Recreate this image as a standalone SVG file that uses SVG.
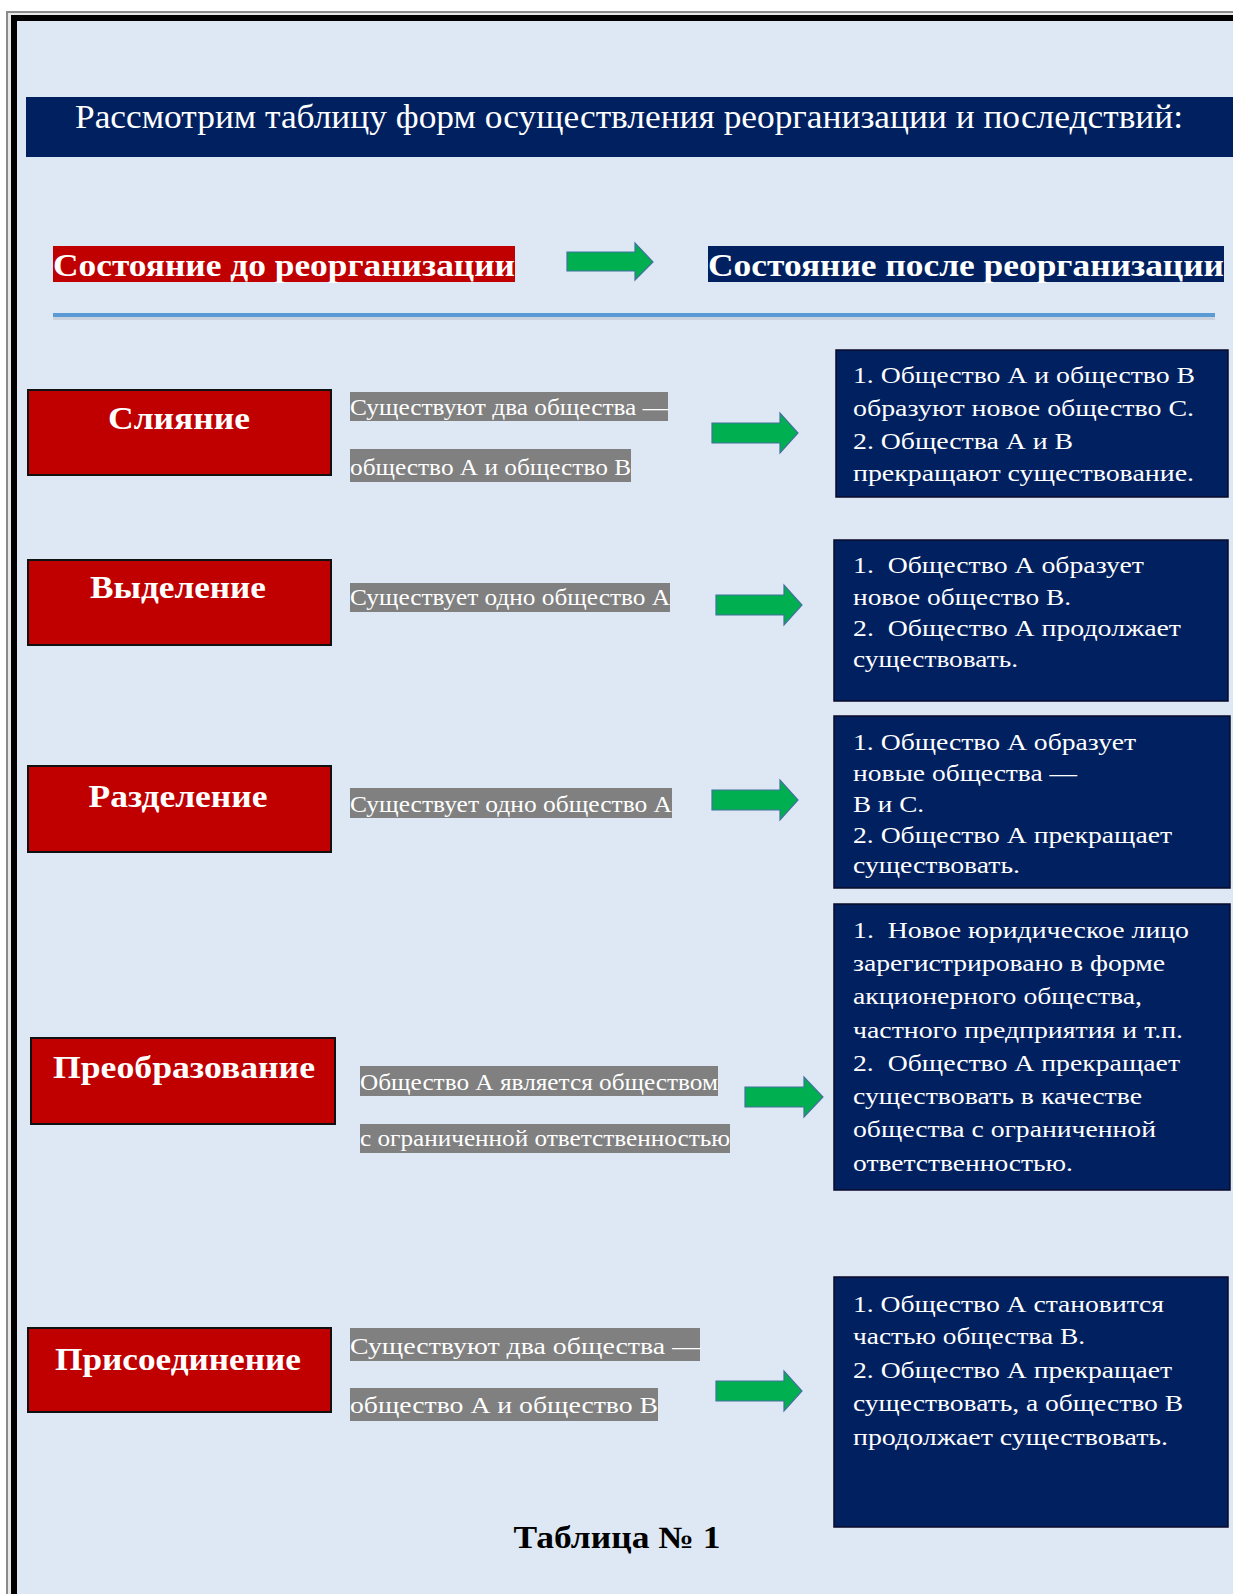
<svg xmlns="http://www.w3.org/2000/svg" width="1233" height="1594" viewBox="0 0 1233 1594">
<style>
text{font-family:"Liberation Serif","Times New Roman",serif;}
.title{fill:#fff;font-size:33px;}
.hdr{fill:#fff;font-size:32px;font-weight:bold;}
.red{fill:#c00000;stroke:#111;stroke-width:2;}
.redt{fill:#fff;font-size:31px;font-weight:bold;text-anchor:middle;}
.gray{fill:#808080;}
.grayt{fill:#fff;font-size:24px;}
.navy{fill:#002060;stroke:#0a0a2a;stroke-width:1.5;}
.navyt{fill:#fff;font-size:24px;}
.arrow{fill:#00b050;stroke:#41719c;stroke-width:1.2;}
</style>
<defs>
<path id="arr" d="M0,-10 H68 V-20 L86,0 L68,20 V10 H0 Z"/>
</defs>
<rect x="0" y="0" width="1233" height="1594" fill="#ffffff"/>
<rect x="6" y="11" width="1227" height="1583" fill="#8a8a8a"/>
<rect x="8" y="13" width="1225" height="1581" fill="#e8e8e8"/>
<rect x="11" y="15" width="1222" height="1579" fill="#000"/>
<rect x="17" y="21" width="1216" height="1573" fill="#dde8f4"/>

<g id="title">
<rect x="26" y="97" width="1207" height="60" fill="#002060"/>
<text class="title" x="75" y="128" textLength="1108" lengthAdjust="spacingAndGlyphs">Рассмотрим таблицу форм осуществления реорганизации и последствий:</text>
</g>

<g id="header-before">
<rect x="53" y="246" width="462" height="36" fill="#c00000"/>
<text class="hdr" x="53" y="276" textLength="462" lengthAdjust="spacingAndGlyphs">Состояние до реорганизации</text>
</g>
<g id="header-after">
<rect x="708" y="246" width="516" height="36" fill="#002060"/>
<text class="hdr" x="708" y="276" textLength="516" lengthAdjust="spacingAndGlyphs">Состояние после реорганизации</text>
</g>
<g id="divider">
<rect x="53" y="316" width="1162" height="4" fill="#c9d2dd"/>
<rect x="53" y="313" width="1162" height="4" fill="#5b9bd5"/>
</g>

<g id="row1-name">
<rect class="red" x="28" y="390" width="303" height="85"/>
<text class="redt" x="179" y="429" textLength="142" lengthAdjust="spacingAndGlyphs">Слияние</text>
</g>
<g id="row1-before">
<rect class="gray" x="350" y="392" width="318" height="29"/>
<text class="grayt" x="350" y="415" textLength="318" lengthAdjust="spacingAndGlyphs">Существуют два общества —</text>
<rect class="gray" x="350" y="449" width="281" height="33"/>
<text class="grayt" x="350" y="475" textLength="281" lengthAdjust="spacingAndGlyphs">общество А и общество В</text>
</g>
<g id="row1-after">
<rect class="navy" x="836" y="350" width="392" height="147"/>
<text class="navyt" x="853" y="383" textLength="342" lengthAdjust="spacingAndGlyphs">1. Общество А и общество В</text>
<text class="navyt" x="853" y="416" textLength="341" lengthAdjust="spacingAndGlyphs">образуют новое общество С.</text>
<text class="navyt" x="853" y="449" textLength="220" lengthAdjust="spacingAndGlyphs">2. Общества А и В</text>
<text class="navyt" x="853" y="481" textLength="341" lengthAdjust="spacingAndGlyphs">прекращают существование.</text>
</g>

<g id="row2-name">
<rect class="red" x="28" y="560" width="303" height="85"/>
<text class="redt" x="178" y="598" textLength="176" lengthAdjust="spacingAndGlyphs">Выделение</text>
</g>
<g id="row2-before">
<rect class="gray" x="350" y="583" width="320" height="29"/>
<text class="grayt" x="350" y="605" textLength="320" lengthAdjust="spacingAndGlyphs">Существует одно общество А</text>
</g>
<g id="row2-after">
<rect class="navy" x="834" y="540" width="394" height="161"/>
<text class="navyt" x="853" y="573" textLength="291" lengthAdjust="spacingAndGlyphs">1.&#160; Общество А образует</text>
<text class="navyt" x="853" y="605" textLength="218" lengthAdjust="spacingAndGlyphs">новое общество В.</text>
<text class="navyt" x="853" y="636" textLength="328" lengthAdjust="spacingAndGlyphs">2.&#160; Общество А продолжает</text>
<text class="navyt" x="853" y="667" textLength="165" lengthAdjust="spacingAndGlyphs">существовать.</text>
</g>

<g id="row3-name">
<rect class="red" x="28" y="766" width="303" height="86"/>
<text class="redt" x="178" y="807" textLength="179" lengthAdjust="spacingAndGlyphs">Разделение</text>
</g>
<g id="row3-before">
<rect class="gray" x="350" y="788" width="322" height="30"/>
<text class="grayt" x="350" y="812" textLength="322" lengthAdjust="spacingAndGlyphs">Существует одно общество А</text>
</g>
<g id="row3-after">
<rect class="navy" x="834" y="716" width="396" height="172"/>
<text class="navyt" x="853" y="750" textLength="283" lengthAdjust="spacingAndGlyphs">1. Общество А образует</text>
<text class="navyt" x="853" y="781" textLength="224" lengthAdjust="spacingAndGlyphs">новые общества —</text>
<text class="navyt" x="853" y="812" textLength="71" lengthAdjust="spacingAndGlyphs">В и С.</text>
<text class="navyt" x="853" y="843" textLength="319" lengthAdjust="spacingAndGlyphs">2. Общество А прекращает</text>
<text class="navyt" x="853" y="873" textLength="167" lengthAdjust="spacingAndGlyphs">существовать.</text>
</g>

<g id="row4-name">
<rect class="red" x="31" y="1038" width="304" height="86"/>
<text class="redt" x="184" y="1078" textLength="262" lengthAdjust="spacingAndGlyphs">Преобразование</text>
</g>
<g id="row4-before">
<rect class="gray" x="360" y="1066" width="358" height="30"/>
<text class="grayt" x="360" y="1090" textLength="358" lengthAdjust="spacingAndGlyphs">Общество А является обществом</text>
<rect class="gray" x="360" y="1124" width="370" height="29"/>
<text class="grayt" x="360" y="1146" textLength="370" lengthAdjust="spacingAndGlyphs">с ограниченной ответственностью</text>
</g>
<g id="row4-after">
<rect class="navy" x="834" y="904" width="396" height="286"/>
<text class="navyt" x="853" y="938" textLength="336" lengthAdjust="spacingAndGlyphs">1.&#160; Новое юридическое лицо</text>
<text class="navyt" x="853" y="971" textLength="312" lengthAdjust="spacingAndGlyphs">зарегистрировано в форме</text>
<text class="navyt" x="853" y="1004" textLength="289" lengthAdjust="spacingAndGlyphs">акционерного общества,</text>
<text class="navyt" x="853" y="1038" textLength="330" lengthAdjust="spacingAndGlyphs">частного предприятия и т.п.</text>
<text class="navyt" x="853" y="1071" textLength="327" lengthAdjust="spacingAndGlyphs">2.&#160; Общество А прекращает</text>
<text class="navyt" x="853" y="1104" textLength="289" lengthAdjust="spacingAndGlyphs">существовать в качестве</text>
<text class="navyt" x="853" y="1137" textLength="303" lengthAdjust="spacingAndGlyphs">общества с ограниченной</text>
<text class="navyt" x="853" y="1171" textLength="220" lengthAdjust="spacingAndGlyphs">ответственностью.</text>
</g>

<g id="row5-name">
<rect class="red" x="28" y="1328" width="303" height="84"/>
<text class="redt" x="178" y="1370" textLength="246" lengthAdjust="spacingAndGlyphs">Присоединение</text>
</g>
<g id="row5-before">
<rect class="gray" x="350" y="1328" width="350" height="33"/>
<text class="grayt" x="350" y="1354" textLength="350" lengthAdjust="spacingAndGlyphs" font-size="26">Существуют два общества —</text>
<rect class="gray" x="350" y="1388" width="308" height="33"/>
<text class="grayt" x="350" y="1413" textLength="308" lengthAdjust="spacingAndGlyphs" font-size="26">общество А и общество В</text>
</g>
<g id="row5-after">
<rect class="navy" x="834" y="1277" width="394" height="250"/>
<text class="navyt" x="853" y="1312" textLength="311" lengthAdjust="spacingAndGlyphs">1. Общество А становится</text>
<text class="navyt" x="853" y="1344" textLength="232" lengthAdjust="spacingAndGlyphs">частью общества В.</text>
<text class="navyt" x="853" y="1378" textLength="319" lengthAdjust="spacingAndGlyphs">2. Общество А прекращает</text>
<text class="navyt" x="853" y="1411" textLength="330" lengthAdjust="spacingAndGlyphs">существовать, а общество В</text>
<text class="navyt" x="853" y="1445" textLength="315" lengthAdjust="spacingAndGlyphs">продолжает существовать.</text>
</g>

<g id="caption">
<text x="617" y="1548" font-size="31" font-weight="bold" fill="#000" text-anchor="middle" textLength="207" lengthAdjust="spacingAndGlyphs">Таблица № 1</text>
</g>

<g id="connectors">
<path class="arrow" d="M567,252 H635 V243 L653,262 L635,280 V271 H567 Z"/>
<use href="#arr" class="arrow" transform="translate(712,433)"/>
<use href="#arr" class="arrow" transform="translate(716,605)"/>
<use href="#arr" class="arrow" transform="translate(712,800)"/>
<path class="arrow" d="M745,1087 H804 V1077 L823,1097 L804,1117 V1107 H745 Z"/>
<use href="#arr" class="arrow" transform="translate(716,1391)"/>
</g>
</svg>
